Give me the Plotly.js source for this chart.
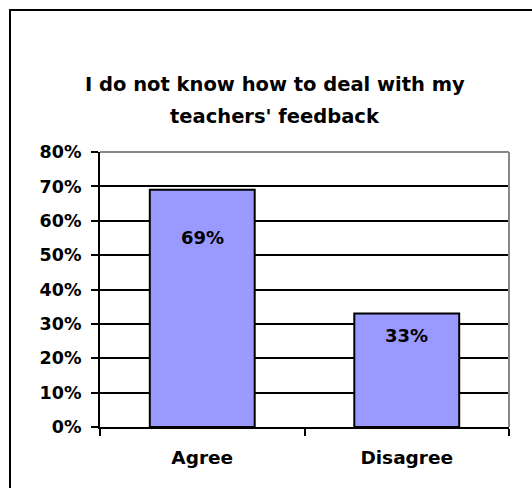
<!DOCTYPE html>
<html>
<head>
<meta charset="utf-8">
<script src="https://cdn.plot.ly/plotly-3.0.1.min.js"></script>
<style>
html,body{margin:0;padding:0;background:#fff;overflow:hidden;}
#wrap{position:relative;width:532px;height:488px;overflow:hidden;}
#chart{width:532px;height:488px;}
#frame{position:absolute;left:9px;top:9px;width:800px;height:800px;border-top:2px solid #000;border-left:2px solid #000;pointer-events:none;}
</style>
</head>
<body>
<div id="wrap"><div id="chart"></div><div id="frame"></div></div>
<script>
const categories = ["Agree", "Disagree"];
const values = [0.69, 0.33];
const titleLines = ["I do not know how to deal with my", "teachers' feedback"];
const yTickVals = [0, 0.1, 0.2, 0.3, 0.4, 0.5, 0.6, 0.7, 0.8];
const yTickText = ["0%", "10%", "20%", "30%", "40%", "50%", "60%", "70%", "80%"];

const FONT = "DejaVu Sans, Arial, sans-serif";
const labelShift = [-47.5, -21.7];

const trace = {
  type: "bar",
  x: categories,
  y: values,
  marker: {color: "#9999FF", line: {color: "#000000", width: 2}},
  hoverinfo: "skip"
};

const annotations = [
  {text: titleLines[0], xref: "paper", yref: "paper", x: 0.429, y: 1.2455, xanchor: "center", yanchor: "middle", showarrow: false,
   font: {family: FONT, size: 19.5, color: "#000", weight: "bold"}},
  {text: titleLines[1], xref: "paper", yref: "paper", x: 0.429, y: 1.1309, xanchor: "center", yanchor: "middle", showarrow: false,
   font: {family: FONT, size: 19.5, color: "#000", weight: "bold"}}
];
categories.forEach((c, i) => {
  annotations.push({
    text: Math.round(values[i] * 100) + "%",
    x: c, y: values[i], xref: "x", yref: "y",
    yshift: labelShift[i], yanchor: "middle", xanchor: "center", showarrow: false,
    font: {family: FONT, size: 18, color: "#000", weight: "bold"}
  });
});

const layout = {
  width: 532, height: 488,
  margin: {l: 100, r: 23, t: 152, b: 61, pad: 0},
  paper_bgcolor: "#ffffff", plot_bgcolor: "#ffffff",
  showlegend: false,
  bargap: 0.487,
  font: {family: FONT, color: "#000"},
  xaxis: {
    type: "category",
    showgrid: false, zeroline: false,
    showline: true, linecolor: "#000", linewidth: 2,
    ticks: "outside", tickson: "boundaries", ticklen: 7, tickwidth: 2, tickcolor: "#000",
    tickfont: {family: FONT, size: 18.5, color: "#000", weight: "bold"},
    ticklabelstandoff: 13
  },
  yaxis: {
    range: [0, 0.8],
    tickvals: yTickVals, ticktext: yTickText,
    showgrid: true, gridcolor: "#000", gridwidth: 2,
    zeroline: false,
    showline: true, linecolor: "#000", linewidth: 2,
    ticks: "outside", ticklen: 7, tickwidth: 2, tickcolor: "#000",
    tickfont: {family: FONT, size: 17.5, color: "#000", weight: "bold"},
    ticklabelstandoff: 6
  },
  shapes: [
    {type: "line", xref: "paper", yref: "paper", x0: 0, x1: 1, y0: 1, y1: 1, line: {color: "#888888", width: 2}, layer: "above"},
    {type: "line", xref: "paper", yref: "paper", x0: 1, x1: 1, y0: 0, y1: 1, line: {color: "#888888", width: 2}, layer: "above"}
  ],
  annotations: annotations
};

Plotly.newPlot("chart", [trace], layout, {staticPlot: true, displayModeBar: false});
</script>
</body>
</html>
